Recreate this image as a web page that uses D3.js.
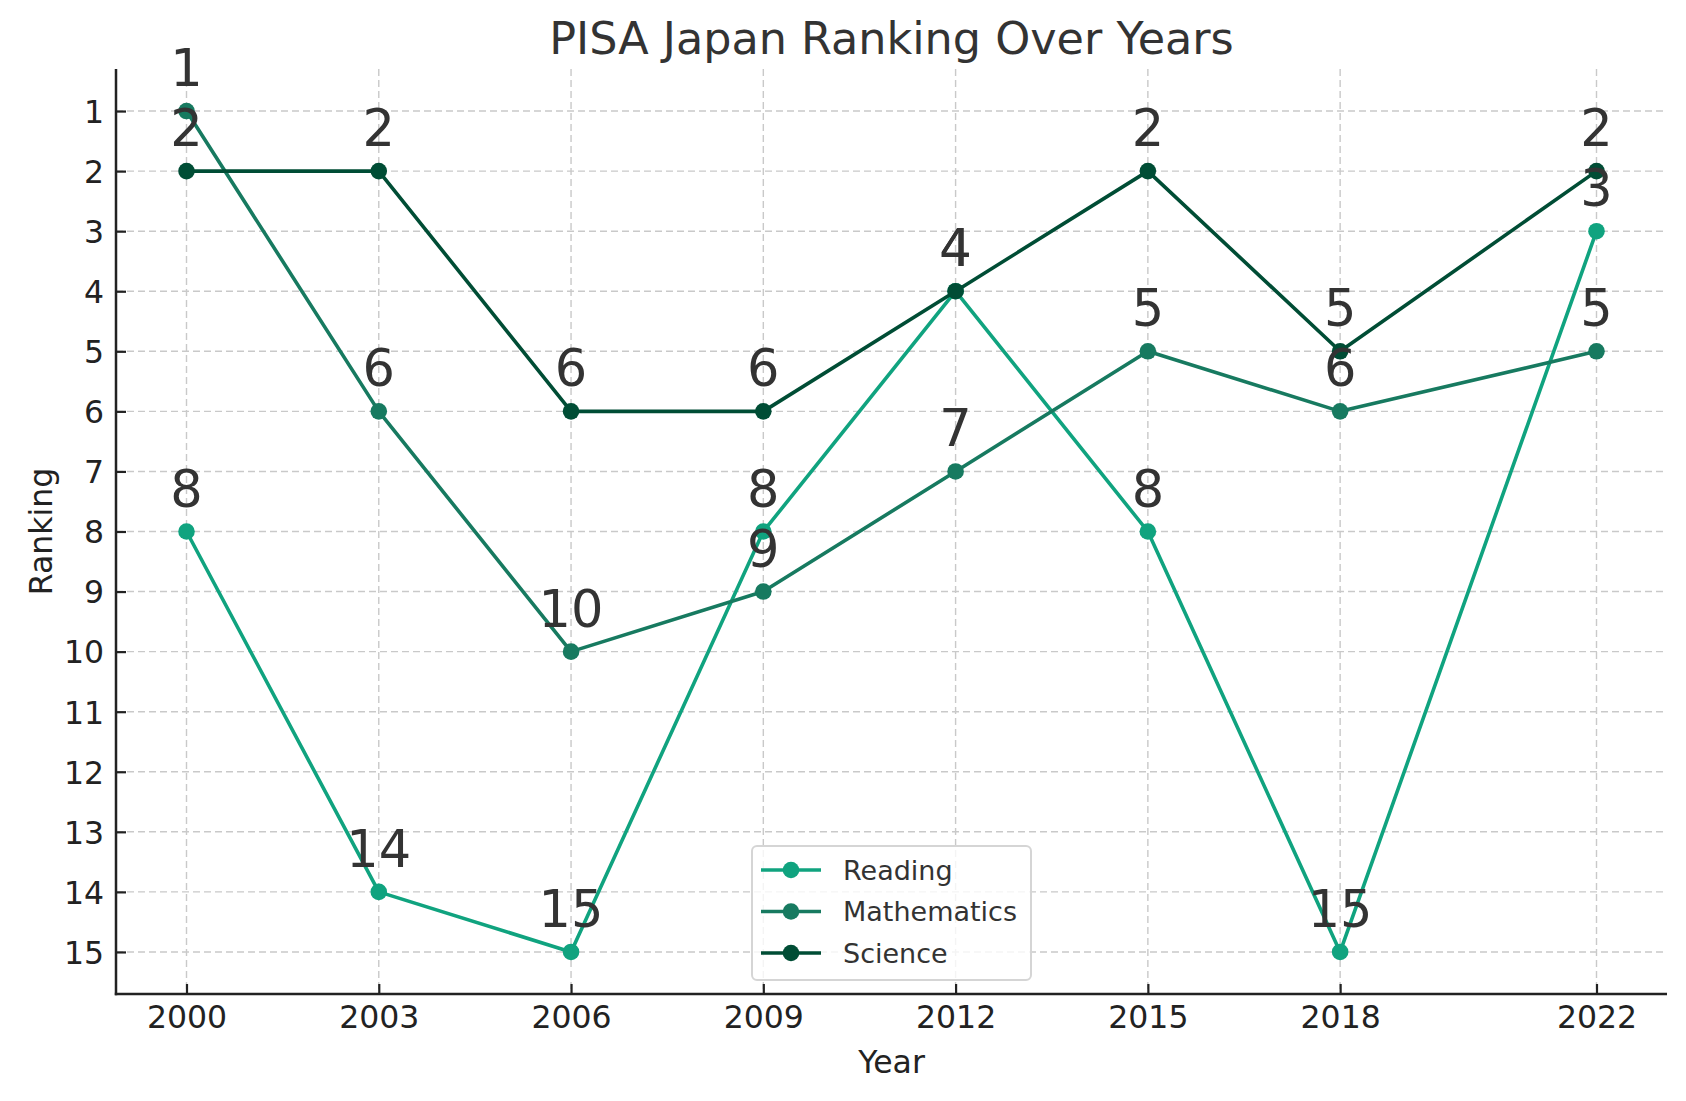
<!DOCTYPE html>
<html>
<head>
<meta charset="utf-8">
<script src="https://cdn.jsdelivr.net/npm/d3@7"></script>
<style>
html,body{margin:0;padding:0;background:#fff;}
svg{display:block;font-family:"DejaVu Sans",sans-serif;}
</style>
</head>
<body>
<svg id="chart" width="1686" height="1101"></svg>
<script>
const years = [2000, 2003, 2006, 2009, 2012, 2015, 2018, 2022];
const reading = [8, 14, 15, 8, 4, 8, 15, 3];
const mathematics = [1, 6, 10, 9, 7, 5, 6, 5];
const science = [2, 2, 6, 6, 4, 2, 5, 2];
const seriesNames = ["Reading", "Mathematics", "Science"];
const seriesColors = ["#10a37f", "#177a60", "#004d35"];
const yTicks = d3.range(1, 16);
const titleText = "PISA Japan Ranking Over Years";

const series = [reading, mathematics, science].map((vals, i) => ({
  name: seriesNames[i], color: seriesColors[i],
  points: vals.map((v, j) => ({year: years[j], rank: v}))
}));

const svg = d3.select("#chart");
const L = 116, R = 1667, T = 69, B = 994;

const x = d3.scaleLinear().domain([1998.9, 2023.1]).range([L, R]);
const y = d3.scaleLinear().domain([0.3, 15.7]).range([T, B]);

// grid
const grid = svg.append("g");
grid.selectAll("line.vx").data(years).join("line")
  .attr("x1", d => x(d)).attr("x2", d => x(d)).attr("y1", T).attr("y2", B)
  .attr("stroke", "#c9c9c9").attr("stroke-width", 1.4).attr("stroke-dasharray", "7,4");
grid.selectAll("line.hy").data(yTicks).join("line")
  .attr("x1", L).attr("x2", R).attr("y1", d => y(d)).attr("y2", d => y(d))
  .attr("stroke", "#c9c9c9").attr("stroke-width", 1.4).attr("stroke-dasharray", "7,4");

// axes
const xAxis = d3.axisBottom(x).tickValues(years).tickFormat(d3.format("d")).tickSizeInner(-10).tickSizeOuter(0).tickPadding(18);
const yAxis = d3.axisLeft(y).tickValues(yTicks).tickSizeInner(-10).tickSizeOuter(0).tickPadding(18);

const gx = svg.append("g").attr("transform", `translate(0,${B})`).call(xAxis);
const gy = svg.append("g").attr("transform", `translate(${L},0)`).call(yAxis);
[gx, gy].forEach(g => {
  g.select(".domain").remove();
  g.selectAll(".tick line").attr("stroke", "#222").attr("stroke-width", 2.2);
  g.selectAll(".tick text").attr("fill", "#222").style("font-size", "31.5px").style("font-family", "DejaVu Sans");
});
gx.selectAll(".tick text").attr("dy", "0.71em").attr("y", 12);
gy.selectAll(".tick text").attr("dy", "0.36em").attr("x", -12);

svg.append("line").attr("x1", L).attr("x2", L).attr("y1", T).attr("y2", B + 1.2)
  .attr("stroke", "#222").attr("stroke-width", 2.5);
svg.append("line").attr("x1", L - 1.2).attr("x2", R).attr("y1", B).attr("y2", B)
  .attr("stroke", "#222").attr("stroke-width", 2.5);

// lines
const line = d3.line().x(d => x(d.year)).y(d => y(d.rank));
series.forEach(s => {
  svg.append("path").datum(s.points).attr("d", line)
    .attr("fill", "none").attr("stroke", s.color).attr("stroke-width", 3.6)
    .attr("stroke-linejoin", "round");
  svg.append("g").selectAll("circle").data(s.points).join("circle")
    .attr("cx", d => x(d.year)).attr("cy", d => y(d.rank)).attr("r", 8.3)
    .attr("fill", s.color);
});

// annotations
series.forEach(s => {
  svg.append("g").selectAll("text").data(s.points).join("text")
    .attr("x", d => x(d.year)).attr("y", d => y(d.rank) - 25)
    .attr("text-anchor", "middle").attr("fill", "#333")
    .style("font-size", "51px").text(d => d.rank);
});

// title & labels
svg.append("text").attr("x", (L + R) / 2).attr("y", 54).attr("text-anchor", "middle")
  .attr("fill", "#333").style("font-size", "44.5px").text(titleText);
svg.append("text").attr("x", (L + R) / 2).attr("y", 1073).attr("text-anchor", "middle")
  .attr("fill", "#222").style("font-size", "31.5px").text("Year");
svg.append("text").attr("transform", `translate(52,${(T + B) / 2}) rotate(-90)`)
  .attr("text-anchor", "middle").attr("fill", "#222").style("font-size", "31.5px").text("Ranking");

// legend
const lg = svg.append("g");
lg.append("rect").attr("x", 752).attr("y", 846).attr("width", 279).attr("height", 134)
  .attr("rx", 5).attr("fill", "rgba(255,255,255,0.8)").attr("stroke", "#d5d5d5").attr("stroke-width", 2);
series.forEach((s, i) => {
  const cy = 870 + i * 41.5;
  lg.append("line").attr("x1", 761).attr("x2", 821).attr("y1", cy).attr("y2", cy)
    .attr("stroke", s.color).attr("stroke-width", 3.6);
  lg.append("circle").attr("cx", 791).attr("cy", cy).attr("r", 8.3).attr("fill", s.color);
  lg.append("text").attr("x", 843).attr("y", cy).attr("dy", "0.36em")
    .attr("fill", "#333").style("font-size", "27px").text(s.name);
});
</script>
</body>
</html>
